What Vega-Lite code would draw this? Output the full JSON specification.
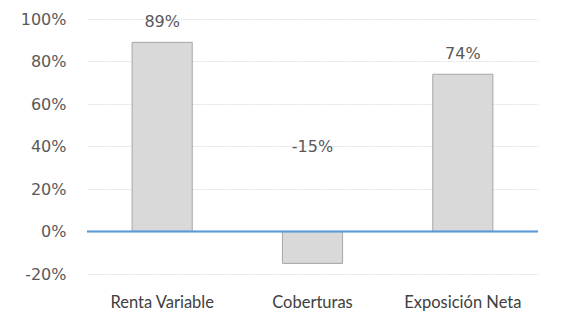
{
  "$schema": "https://vega.github.io/schema/vega-lite/v6.json",
  "autosize": "none",
  "width": 451,
  "height": 255,
  "padding": {"left": 87, "top": 19, "right": 27, "bottom": 39},
  "background": "white",
  "config": {
    "view": {"stroke": null},
    "font": "DejaVu Sans"
  },
  "data": {
    "values": [
      {"categoria": "Renta Variable", "valor": 0.89},
      {"categoria": "Coberturas", "valor": -0.15},
      {"categoria": "Exposición Neta", "valor": 0.74}
    ]
  },
  "transform": [
    {"calculate": "replace(format(datum.valor, '.0%'), '\u2212', '-')", "as": "etiqueta"}
  ],
  "encoding": {
    "x": {
      "field": "categoria",
      "type": "nominal",
      "sort": null,
      "scale": {"paddingInner": 0.6, "paddingOuter": 0.3},
      "axis": {
        "title": null,
        "labelAngle": 0,
        "domain": false,
        "ticks": false,
        "labelFontSize": 16.5,
        "labelColor": "#404040",
        "labelPadding": 20,
        "labelFont": "Lato"
      }
    }
  },
  "layer": [
    {
      "mark": {"type": "bar", "fill": "#D9D9D9", "stroke": "#A6A6A6", "strokeWidth": 1},
      "encoding": {
        "y": {
          "field": "valor",
          "type": "quantitative",
          "scale": {"domain": [-0.2, 1.0], "nice": false},
          "axis": {
            "title": null,
            "format": ".0%",
            "labelExpr": "replace(datum.label, '\u2212', '-')",
            "values": [-0.2, 0, 0.2, 0.4, 0.6, 0.8, 1.0],
            "domain": false,
            "ticks": false,
            "grid": true,
            "gridColor": "#E3E3E3",
            "gridDash": [2, 1],
            "labelFontSize": 16,
            "labelColor": "#595959",
            "labelPadding": 21
          }
        }
      }
    },
    {
      "mark": {"type": "rule", "color": "#5B9BD5", "strokeWidth": 1.3},
      "encoding": {
        "y": {"datum": 0},
        "x": {"value": 0},
        "x2": {"value": 451}
      }
    },
    {
      "transform": [{"filter": "datum.valor >= 0"}],
      "mark": {"type": "text", "baseline": "bottom", "dy": -12, "fontSize": 16, "color": "#595959"},
      "encoding": {
        "y": {"field": "valor", "type": "quantitative"},
        "text": {"field": "etiqueta", "type": "nominal"}
      }
    },
    {
      "transform": [{"filter": "datum.valor < 0"}],
      "mark": {"type": "text", "baseline": "middle", "fontSize": 16, "color": "#595959"},
      "encoding": {
        "y": {"datum": 0.4},
        "text": {"field": "etiqueta", "type": "nominal"}
      }
    }
  ]
}
